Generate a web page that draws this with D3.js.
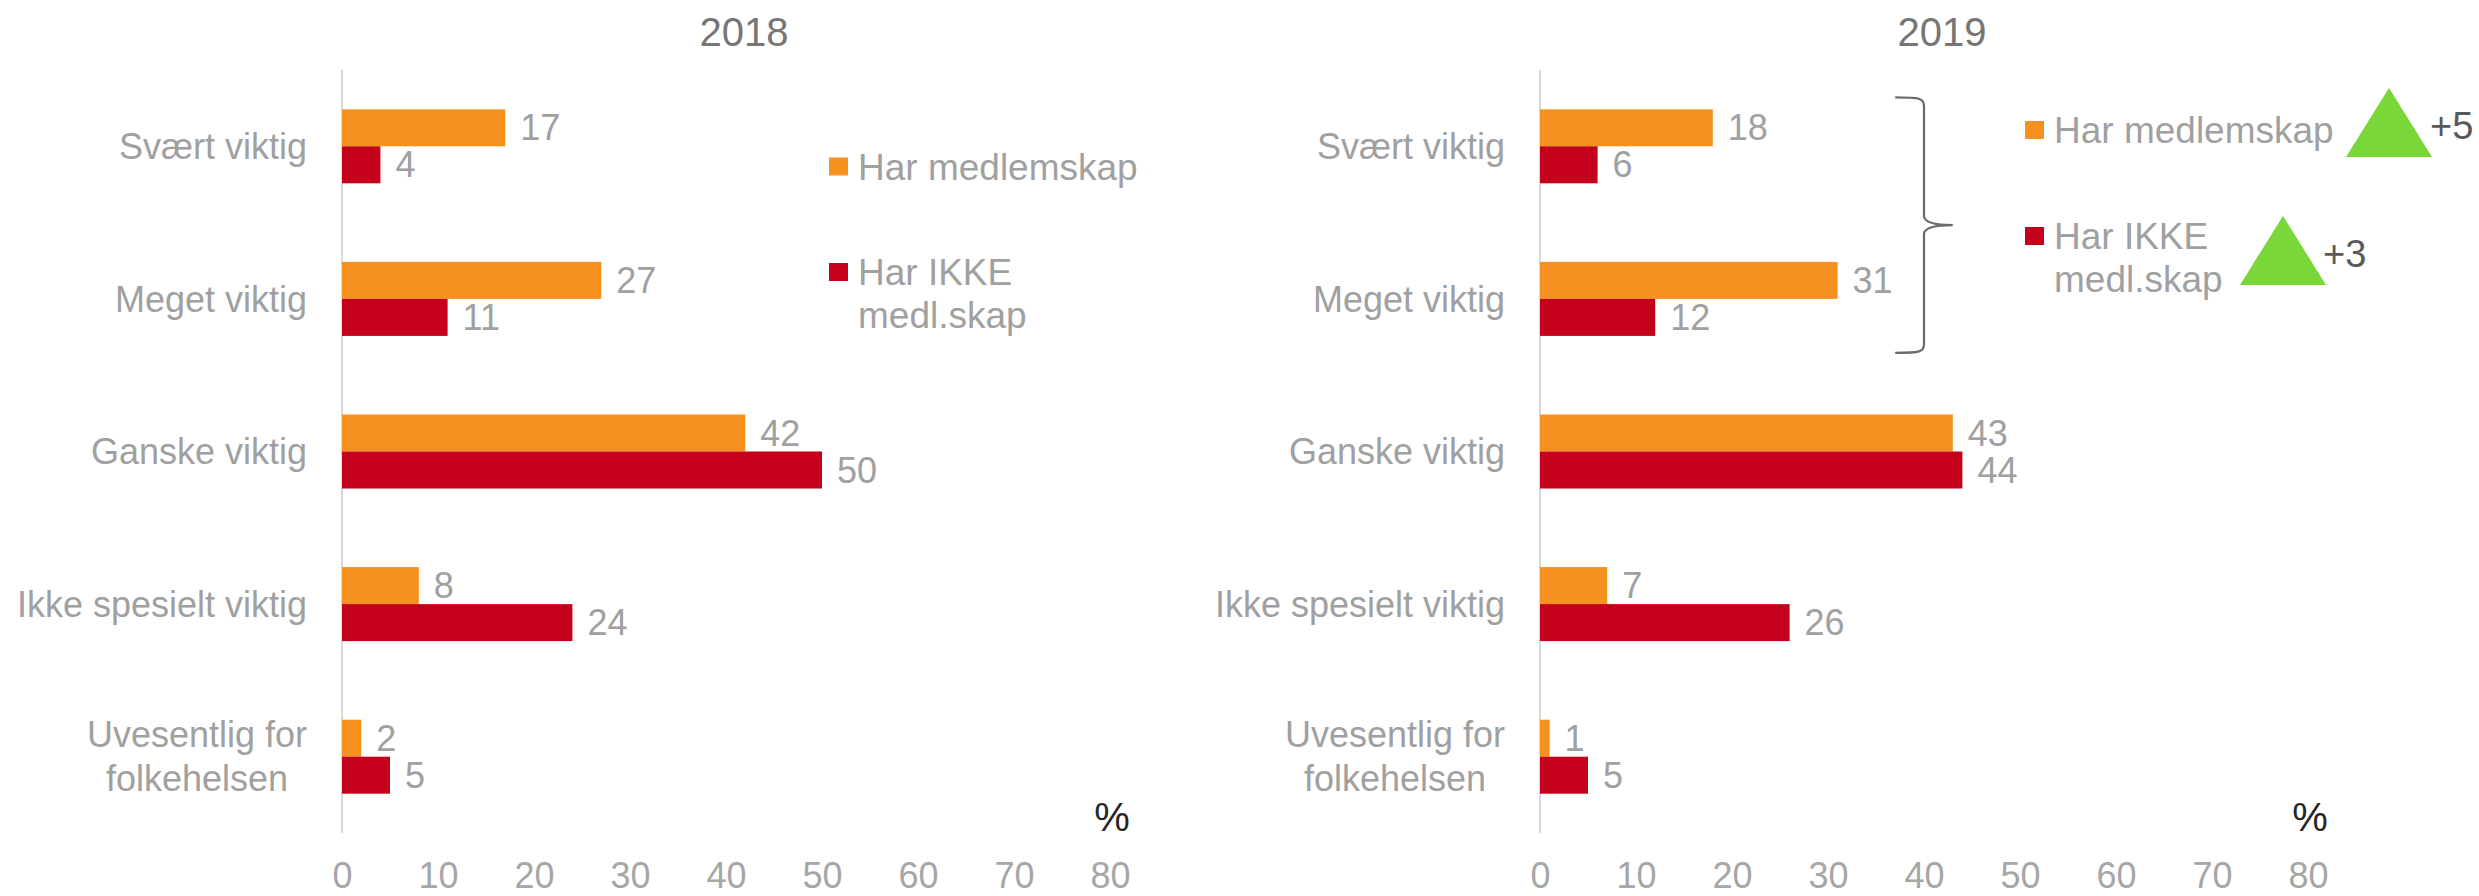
<!DOCTYPE html>
<html><head><meta charset="utf-8">
<script src="https://cdn.jsdelivr.net/npm/d3@7"></script>
<style>
body{margin:0;background:#fff;}
svg{display:block;font-family:"Liberation Sans",Arial,sans-serif;}
</style>
</head><body>
<svg id="chart" width="2479" height="896"></svg>
<script>
// ---- data ----
const categories = ["Svært viktig", "Meget viktig", "Ganske viktig", "Ikke spesielt viktig", "Uvesentlig for\nfolkehelsen"];
const seriesNames = ["Har medlemskap", "Har IKKE\nmedl.skap"];
const years = ["2018", "2019"];
const members2018 = [17, 27, 42, 8, 2];
const nonMembers2018 = [4, 11, 50, 24, 5];
const members2019 = [18, 31, 43, 7, 1];
const nonMembers2019 = [6, 12, 44, 26, 5];
const xTicks = [0, 10, 20, 30, 40, 50, 60, 70, 80];
const changeLabels = ["+5", "+3"];
const unitLabel = "%";

// ---- styles / layout ----
const colors = ["#F4911F", "#C5001A"];
const green = "#79D739";
const W = 768, yTop = 70, yBot = 833;
const svg = d3.select("#chart");

const panels = [
  {year: years[0], x0: 342, data: [members2018, nonMembers2018], legendX: 829, legendY: [166.5, 272]},
  {year: years[1], x0: 1540, data: [members2019, nonMembers2019], legendX: 2025, legendY: [130, 236]}
];

panels.forEach((p, pi) => {
  const g = svg.append("g");
  const x = d3.scaleLinear().domain([0, 80]).range([p.x0, p.x0 + W]);
  const y = d3.scaleBand().domain(categories).range([yTop, yBot]).paddingInner(0.515).paddingOuter(0.2575);
  const ys = d3.scaleBand().domain([0, 1]).range([0, y.bandwidth()]);

  // title
  g.append("text").attr("x", p.x0 + W / 2 + 18).attr("y", 46)
    .attr("text-anchor", "middle").attr("font-size", 40).attr("fill", "#767676").text(p.year);

  // vertical axis line
  g.append("line").attr("x1", x(0)).attr("x2", x(0)).attr("y1", yTop).attr("y2", yBot)
    .attr("stroke", "#d9d9d9").attr("stroke-width", 2);

  // bottom axis labels
  const ax = g.append("g").attr("transform", `translate(0,${yBot})`)
    .call(d3.axisBottom(x).tickValues(xTicks).tickSize(0).tickPadding(29));
  ax.select(".domain").remove();
  ax.selectAll("text").attr("font-size", 36).attr("fill", "#a6a6a6")
    .attr("font-family", "'Liberation Sans', Arial, sans-serif");

  // unit label
  g.append("text").attr("x", p.x0 + 770).attr("y", 831).attr("text-anchor", "middle")
    .attr("font-size", 40).attr("fill", "#262626").text(unitLabel);

  // bars + value labels
  p.data.forEach((vals, s) => {
    g.selectAll(null).data(vals).enter().append("rect")
      .attr("x", x(0))
      .attr("y", (d, i) => y(categories[i]) + ys(s))
      .attr("width", d => x(d) - x(0))
      .attr("height", ys.bandwidth())
      .attr("fill", colors[s]);
    g.selectAll(null).data(vals).enter().append("text")
      .attr("x", d => x(d) + 15)
      .attr("y", (d, i) => y(categories[i]) + ys(s) + ys.bandwidth() / 2)
      .attr("dy", "0.35em")
      .attr("font-size", 36).attr("fill", "#a0a0a0")
      .text(d => d);
  });

  // category labels
  categories.forEach(c => {
    const lines = c.split("\n");
    const cy = y(c) + y.bandwidth() / 2;
    const t = g.append("text").attr("font-size", 36).attr("fill", "#a0a0a0");
    if (lines.length === 1) {
      t.attr("x", x(0) - 35).attr("y", cy).attr("dy", "0.35em").attr("text-anchor", "end").text(c);
    } else {
      t.attr("text-anchor", "middle");
      lines.forEach((l, k) => {
        t.append("tspan").attr("x", 0).attr("y", cy - (lines.length - 1) * 22 + k * 44 + 12.6).text(l);
      });
      const w = t.node().getBBox().width;
      t.selectAll("tspan").attr("x", x(0) - 35 - w / 2);
    }
  });

  // legend
  seriesNames.forEach((n, s) => {
    const ly = p.legendY[s];
    g.append("rect").attr("x", p.legendX).attr("y", ly - 9).attr("width", 19).attr("height", 18).attr("fill", colors[s]);
    const t = g.append("text").attr("font-size", 37).attr("fill", "#a0a0a0");
    n.split("\n").forEach((l, k) => {
      t.append("tspan").attr("x", p.legendX + 29).attr("y", ly + 13 + k * 43).text(l);
    });
  });

  if (pi === 1) {
    // brace around the first two categories
    const top = y(categories[0]) - 12;
    const bot = y(categories[1]) + y.bandwidth() + 17;
    const mid = (top + bot) / 2;
    const xl = x(37), xv = x(40), xt = x(43);
    const path = `M${xl},${top} C${xv - 4},${top} ${xv},${top + 1} ${xv},${top + 9}
      L${xv},${mid - 9} C${xv},${mid - 3} ${xv + 8},${mid} ${xt},${mid}
      C${xv + 8},${mid} ${xv},${mid + 3} ${xv},${mid + 9}
      L${xv},${bot - 9} C${xv},${bot - 1} ${xv - 4},${bot} ${xl},${bot}`;
    g.append("path").attr("d", path).attr("fill", "none").attr("stroke", "#6a6a6a").attr("stroke-width", 2.2);

    // change indicators
    const tri = [{ax: 2389, top: 88, base: 157, tx: 2430, ty: 139}, {ax: 2283, top: 216, base: 285, tx: 2323, ty: 267}];
    tri.forEach((t, k) => {
      g.append("path").attr("d", `M${t.ax},${t.top} L${t.ax + 43},${t.base} L${t.ax - 43},${t.base} Z`).attr("fill", green);
      g.append("text").attr("x", t.tx).attr("y", t.ty).attr("font-size", 38).attr("fill", "#595959").text(changeLabels[k]);
    });
  }
});
</script>
</body></html>
